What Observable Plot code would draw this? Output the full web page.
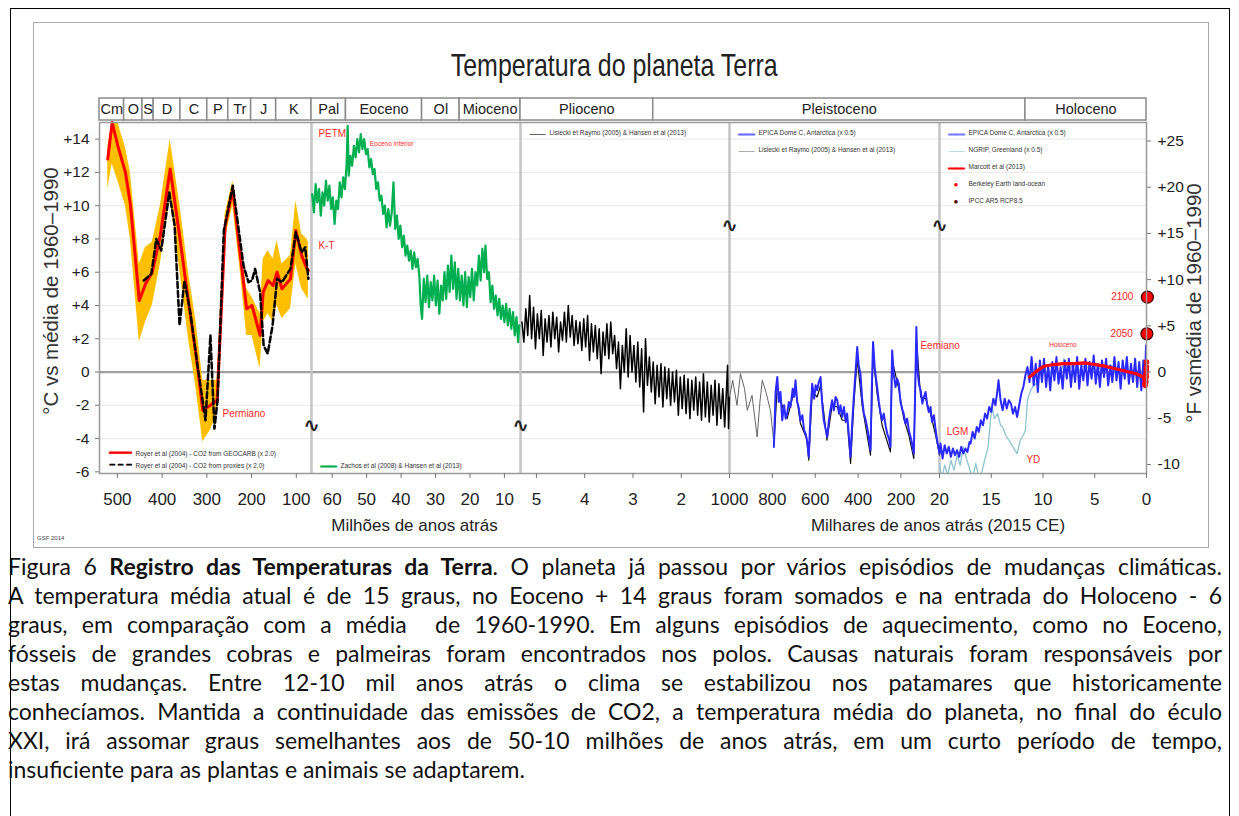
<!DOCTYPE html>
<html><head><meta charset="utf-8">
<script src="https://cdn.jsdelivr.net/npm/d3@7"></script>
<script src="https://cdn.jsdelivr.net/npm/@observablehq/plot@0.6"></script>
<style>
body{margin:0;background:#fff;}
#page{position:relative;width:1239px;height:816px;overflow:hidden;background:#fff;}
#outer{position:absolute;left:10px;top:8px;width:1218px;height:900px;border:1px solid #000;}
#chart{position:absolute;left:33px;top:22px;width:1174px;height:524px;border:1px solid #aaa;background:#fff;}
#title{position:absolute;left:0;width:1160px;top:24px;text-align:center;font-family:"Liberation Sans",Arial,sans-serif;font-size:32px;color:#222;transform:scaleX(0.78);transform-origin:581px 0;}
#hdr{position:absolute;left:0;top:74px;}
#main{position:absolute;left:0;top:98px;}
.rot{position:absolute;white-space:nowrap;transform:translate(-50%,-50%) rotate(-90deg);font-family:"Liberation Sans",Arial,sans-serif;font-size:20.5px;color:#333;}
#gsf{position:absolute;left:3px;top:512px;font-size:6px;color:#444;font-family:"Liberation Sans",sans-serif;}
svg{overflow:visible}
#caption{position:absolute;left:8px;top:552px;width:1214px;font-family:Lato,"Open Sans",sans-serif;font-size:23px;line-height:29px;color:#111;}
.jl{text-align:justify;text-align-last:justify;}
</style></head><body>
<div id="page">
 <div id="outer"></div>
 <div id="chart">
   <div id="title">Temperatura do planeta Terra</div>
   <div id="hdr"></div>
   <div id="main"></div>
   <div class="rot" style="left:17px;top:268px;">°C vs média de 1960–1990</div>
   <div class="rot" style="left:1160px;top:280px;">°F vsmédia de 1960–1990</div>
   <div id="gsf">GSF 2014</div>
 </div>
 <div id="caption">
  <div class="jl">Figura 6 <b>Registro das Temperaturas da Terra</b>. O planeta já passou por vários episódios de mudanças climáticas.</div>
  <div class="jl">A temperatura média atual é de 15 graus, no Eoceno + 14 graus foram somados e na entrada do Holoceno - 6</div>
  <div class="jl">graus, em comparação com a média&nbsp; de 1960-1990. Em alguns episódios de aquecimento, como no Eoceno,</div>
  <div class="jl">fósseis de grandes cobras e palmeiras foram encontrados nos polos. Causas naturais foram responsáveis por</div>
  <div class="jl">estas mudanças. Entre 12-10 mil anos atrás o clima se estabilizou nos patamares que historicamente</div>
  <div class="jl">conhecíamos. Mantida a continuidade das emissões de CO2, a temperatura média do planeta, no final do éculo</div>
  <div class="jl">XXI, irá assomar graus semelhantes aos de 50-10 milhões de anos atrás, em um curto período de tempo,</div>
  <div>insuficiente para as plantas e animais se adaptarem.</div>
 </div>
</div>
<script>
// ---------- DATA ----------
// scale break points (years before present)
const breaks = [540e6, 66e6, 5.33e6, 1e6, 20e3, 0];
// bottom axis ticks (years before present) and their labels
const tickYears = [500e6,400e6,300e6,200e6,100e6, 60e6,50e6,40e6,30e6,20e6,10e6, 5e6,4e6,3e6,2e6, 1e6, 800e3,600e3,400e3,200e3, 20e3, 15e3,10e3,5e3,0];
const tickLabels = ["500","400","300","200","100","60","50","40","30","20","10","5","4","3","2","1000","800","600","400","200","20","15","10","5","0"];
const cTicks = [-6,-4,-2,0,2,4,6,8,10,12,14];
const fTicks = [-10,-5,0,5,10,15,20,25];

// geological periods / epochs (Ma)
const eraNames = ["Cm","O","S","D","C","P","Tr","J","K","Pal","Eoceno","Ol","Mioceno","Plioceno","Pleistoceno","Holoceno"];
const eraStartMa = [540,485,444,419,359,299,252,201,145,66,56,33.9,23,5.33,2.58,0.0117];
const eraEndMa   = [485,444,419,359,299,252,201,145,66,56,33.9,23,5.33,2.58,0.0117,0];

// Royer et al (2004), Ma
const royerAge = [521.5,511.7,499,482,471,451,437,422,404,382,360,341,324,309,292,277,259,242,225,211,199,181,174,163,152,143,132,113,101,88,76,73];
const royerGeocarb = [12.8,15.0,13.6,12.0,10.1,4.3,5.3,6.0,8.2,12.2,8.0,4.2,1.0,-2.3,-2.0,-1.7,8.8,11.0,7.0,3.8,4.0,2.2,4.8,5.5,5.2,6.0,5.0,5.6,8.5,7.0,6.2,6.1];
const royerLo = [11.0,12.5,11.5,10.0,8.0,1.8,3.0,4.0,6.5,10.5,6.0,2.0,-1.0,-4.2,-3.5,-2.5,8.0,10.0,6.0,2.2,2.2,0.2,3.0,3.5,3.0,4.0,3.2,3.8,6.5,5.0,4.5,4.4];
const royerHi = [13.5,15.0,15.0,13.5,12.0,6.5,7.5,7.8,10.0,14.0,10.0,6.0,3.0,-0.5,-0.5,-0.5,9.5,11.5,8.0,5.0,4.5,3.5,6.8,7.3,6.8,7.9,6.5,7.0,10.3,8.3,8.0,7.8];
const proxyAge = [441,424,413,402,384,372,361,350,337,322,303,292,283,276,262,242,218,207,199,192,181,173,164,153,143,132,113,101,88,80,73];
const proxyTemp = [5.5,5.9,8.0,7.3,10.8,8.8,2.8,5.5,3.6,0.6,-2.9,2.2,-3.4,-1.7,8.5,11.2,6.4,5.4,5.5,6.2,4.8,1.6,1.1,2.8,5.6,5.4,6.2,8.4,7.2,7.5,5.6];

// Zachos et al (2008) & Hansen et al (2013), Ma
const greenAge = [65.8,65.3,64.8,64.3,63.8,63.3,62.8,62.3,61.8,61.3,60.8,60.3,59.8,59.3,58.8,58.3,57.8,57.3,56.8,56.3,55.8,55.5,55.2,54.7,54.2,53.7,53.2,52.7,52.2,51.7,51.2,50.7,50.2,49.7,49.2,48.7,48.2,47.7,47.2,46.7,46.2,45.7,45.2,44.7,44.2,43.7,43.2,42.7,42.2,41.7,41.2,40.7,40.2,39.7,39.2,38.7,38.2,37.7,37.2,36.7,36.2,35.7,35.2,34.7,34.3,33.9,33.4,32.9,32.4,31.9,31.4,30.9,30.4,29.9,29.4,28.9,28.4,27.9,27.4,26.9,26.4,25.9,25.4,24.9,24.4,23.9,23.4,22.9,22.4,21.9,21.4,20.9,20.4,19.9,19.4,18.9,18.4,17.9,17.4,16.9,16.4,15.9,15.5,15.0,14.5,14.0,13.5,13.0,12.5,12.0,11.5,11.0,10.5,10.0,9.5,9.0,8.5,8.0,7.5,7.0,6.5,6.0,5.7];
const greenTemp = [10.7,9.6,11.3,10.2,11.0,9.4,10.8,10.0,11.5,10.3,11.2,9.8,10.5,8.9,10.3,9.8,11.4,10.5,11.7,11.0,12.5,14.8,11.8,13.0,12.4,13.6,12.9,14.0,13.2,14.3,13.4,14.0,13.1,13.4,12.3,12.8,11.9,12.2,11.0,11.4,10.3,10.6,9.5,10.0,8.7,9.8,8.8,9.6,11.4,8.6,9.4,8.0,8.8,7.5,8.2,7.0,7.6,6.7,7.3,6.2,7.2,6.3,6.8,5.8,4.0,3.2,5.6,4.2,5.8,3.9,5.4,4.3,5.8,4.0,5.5,3.5,5.2,4.3,6.0,4.4,6.4,4.8,7.0,5.0,6.6,4.4,6.2,4.3,5.8,4.0,6.0,3.9,5.7,4.5,6.2,4.3,6.0,5.2,7.0,5.5,7.4,6.0,7.6,5.6,6.0,4.2,5.2,3.8,4.6,3.4,4.4,3.2,4.0,3.0,4.1,2.8,3.8,2.6,3.6,2.2,3.3,1.8,2.8];

// Lisiecki & Raymo (2005) & Hansen et al (2013), Ma
const blackAge = [5.30,5.26,5.22,5.18,5.14,5.10,5.06,5.02,4.98,4.94,4.90,4.86,4.82,4.78,4.74,4.70,4.66,4.62,4.58,4.54,4.50,4.46,4.42,4.38,4.34,4.30,4.26,4.22,4.18,4.14,4.10,4.06,4.02,3.98,3.94,3.90,3.86,3.82,3.78,3.74,3.70,3.66,3.62,3.58,3.54,3.50,3.46,3.42,3.38,3.34,3.30,3.26,3.22,3.18,3.14,3.10,3.06,3.02,2.98,2.94,2.90,2.86,2.82,2.78,2.74,2.70,2.66,2.62,2.58,2.54,2.50,2.46,2.42,2.38,2.34,2.30,2.26,2.22,2.18,2.14,2.10,2.06,2.02,1.98,1.94,1.90,1.86,1.82,1.78,1.74,1.70,1.66,1.62,1.58,1.54,1.50,1.46,1.42,1.38,1.34,1.30,1.26,1.22,1.18,1.14,1.10,1.06,1.04,1.02,1.00];
const blackTemp = [3.0,1.8,3.8,2.2,4.6,2.0,3.9,1.4,3.5,2.0,3.7,1.0,3.2,1.8,3.4,1.5,3.6,2.0,3.3,1.2,3.0,1.9,3.6,1.8,4.0,2.1,3.4,1.6,3.1,1.7,3.0,1.3,3.2,1.5,3.4,0.7,2.9,1.2,2.8,0.8,2.6,-0.1,2.4,1.0,2.9,0.8,3.0,1.1,2.2,0.2,1.8,-1.0,1.6,0.0,2.6,-0.3,2.2,0.0,1.6,-0.6,1.8,-0.9,1.4,-2.4,2.0,-0.8,0.9,-1.2,0.6,-1.9,0.4,-1.5,0.5,-2.1,0.3,-1.6,0.2,-2.0,0.0,-1.8,0.1,-2.6,-0.3,-2.2,-0.2,-2.5,-0.4,-2.8,-0.5,-2.3,-0.3,-2.6,-0.6,-2.9,-0.1,-2.7,-0.6,-3.0,-0.8,-2.6,-0.5,-3.2,-0.7,-2.8,-1.0,-3.3,-0.9,0.4,-3.4,-1.5];

// Lisiecki & Raymo, 1000-790 ka (thin grey) and under EPICA (dark), ka
const lisAge = [1000,985,965,949,930,917,895,871,858,847,830,809,795];
const lisTemp = [-1.5,-0.5,-2.0,-0.1,-1.0,-2.3,-1.4,-3.9,-1.8,-0.5,-1.2,-2.3,-4.0];
const lisDarkAge = [790,777,760,731,705,692,669,640,630,614,591,575,545,521,497,474,451,435,420,404,381,342,330,311,288,249,241,210,187,163,140,128,108,85,62,38,20];
const lisDarkTemp = [-3.8,-0.8,-1.8,-2.8,-1.5,-1.0,-3.1,-4.0,-5.3,-1.2,-1.5,-0.8,-4.1,-2.0,-2.1,-2.9,-2.9,-5.5,-2.0,0.8,-2.0,-5.0,1.0,-1.3,-3.2,-4.8,0.7,-1.0,-2.8,-3.8,-5.2,2.0,-1.5,-1.6,-2.5,-3.8,-5.0];

// EPICA Dome C (x 0.5), ka
const epicaAge = [793,785,777,770,762,754,745,738,731,723,715,705,698,692,684,676,669,660,652,645,637,630,622,614,605,598,591,583,575,568,560,552,544,536,528,521,513,505,497,489,482,474,466,458,451,443,435,428,420,412,404,397,389,381,373,366,358,350,342,336,330,322,311,303,296,288,280,272,264,256,249,245,241,233,225,218,210,202,195,187,179,171,163,155,148,140,134,128,122,115,108,100,93,85,77,70,62,55,46,38,30,25,
 20,19.9,19.7,19.5,19.3,19.1,18.9,18.7,18.5,18.3,18.1,17.9,17.7,17.5,17.3,17.1,17.0,16.8,16.6,16.4,16.2,16.0,15.8,15.6,15.4,15.2,15.0,14.8,14.6,14.4,14.3,14.1,13.9,13.7,13.5,13.3,13.1,12.9,12.7,12.5,12.3,12.1,11.9,11.7,11.5,11.3,11.1,10.9,10.7,10.5,10.3,10.1,9.9,9.7,9.5,9.3,9.1,8.9,8.7,8.5,8.3,8.1,7.9,7.7,7.5,7.3,7.1,6.9,6.7,6.5,6.3,6.1,5.9,5.7,5.5,5.3,5.1,4.9,4.7,4.5,4.3,4.1,3.9,3.7,3.5,3.3,3.1,2.9,2.7,2.5,2.3,2.1,1.9,1.7,1.5,1.3,1.1,0.9,0.7,0.5,0.3,0.15,0.05];
const epicaTemp = [-4.5,-1.2,-0.3,-1.8,-1.2,-2.9,-2.0,-2.8,-2.5,-1.8,-2.1,-1.0,-1.5,-0.5,-1.8,-2.2,-2.9,-2.6,-3.5,-3.7,-4.2,-5.1,-2.5,-0.7,-1.6,-0.8,-1.1,-0.6,-0.3,-1.8,-2.9,-3.4,-3.9,-2.9,-2.2,-1.7,-2.3,-1.5,-1.7,-2.5,-2.0,-2.7,-2.1,-3.0,-2.5,-3.8,-5.1,-3.2,-1.5,0.0,1.5,0.4,-0.1,-1.6,-2.5,-2.8,-3.3,-3.9,-4.7,-1.0,1.8,0.2,-0.9,-1.8,-2.4,-2.9,-2.5,-3.2,-3.7,-4.0,-4.5,-1.5,1.3,-0.2,-0.9,-0.4,-0.7,-1.8,-2.2,-2.5,-3.1,-2.8,-3.5,-3.9,-4.3,-4.9,-1.5,2.7,0.0,-0.8,-1.1,-1.9,-1.5,-1.2,-2.0,-2.4,-2.1,-3.0,-2.6,-3.5,-4.2,-4.5,
 -4.9,-4.3,-5.2,-4.4,-4.9,-4.5,-5.1,-4.6,-5.0,-4.7,-5.1,-4.5,-4.9,-4.6,-4.8,-4.2,-4.3,-3.6,-4.0,-3.3,-3.6,-2.9,-3.2,-2.5,-2.8,-2.1,-2.4,-1.6,-2.0,-1.1,-0.5,-1.7,-2.3,-1.6,-2.2,-1.7,-1.9,-2.5,-2.1,-2.7,-2.0,-1.3,-0.9,-0.2,0.3,-0.6,0.9,-0.8,0.5,-1.2,0.7,-0.6,0.8,-0.9,0.4,-1.1,0.6,-0.5,0.9,-0.7,0.3,-1.0,0.7,-0.4,0.8,-0.9,0.5,-0.6,0.9,-1.0,0.4,-0.5,0.8,-0.8,0.6,-0.4,1.0,-0.7,0.5,-0.9,0.7,-0.3,0.8,-0.8,0.4,-0.6,0.9,-0.5,0.6,-1.0,0.7,-0.4,0.9,-0.7,0.5,-0.6,0.8,-0.9,0.6,-1.1,0.7,-0.5,1.6];

// NGRIP, Greenland (x 0.5), ka
const ngripAge = [20.0,19.8,19.5,19.2,18.9,18.6,18.3,18.0,17.7,17.4,17.1,16.8,16.5,16.2,15.9,15.6,15.3,15.1,14.9,14.7,14.4,14.1,13.9,13.6,13.3,13.1,12.8,12.5,12.2,11.9,11.7,11.5,11.2,10.9,10.6,10.3,9.9,9.6,9.3,9.0,8.6,8.3,8.0,7.6,7.3,7.0,6.6,6.2,5.8,5.4,5.0,4.6,4.2,3.8,3.4,3.0,2.6,2.2,1.8,1.4,1.0,0.6,0.2,0.05];
const ngripTemp = [-5.5,-6.4,-5.6,-6.2,-5.3,-5.9,-5.0,-5.6,-4.5,-5.2,-5.8,-6.4,-5.5,-6.3,-6.0,-5.2,-4.5,-3.0,-2.1,-2.8,-2.5,-3.2,-3.3,-3.8,-4.1,-4.3,-4.6,-4.9,-4.1,-3.8,-3.5,-1.7,-1.1,-0.8,-0.7,-0.2,0.3,-0.3,-0.1,0.4,0.1,-0.4,0.8,0.2,0.3,0.5,0.0,0.4,0.2,0.5,0.0,0.3,-0.1,0.2,0.4,-0.1,0.2,-0.2,0.1,-0.3,0.0,-0.4,-0.1,0.2];

// Marcott et al (2013), ka
const marcottAge = [11.3,10.5,9.9,9.0,8.0,7.0,6.0,5.0,4.0,3.0,2.0,1.0,0.3];
const marcottTemp = [-0.3,0.1,0.35,0.45,0.5,0.5,0.55,0.45,0.35,0.2,0.05,-0.1,-0.3];

// Berkeley Earth land-ocean, ka
const berkAge = [0.165,0.14,0.12,0.1,0.08,0.06,0.045,0.03,0.02,0.01,0.003];
const berkTemp = [-0.7,-0.4,-0.8,-0.5,-0.3,-0.6,-0.1,-0.3,0.1,0.3,0.6];

// IPCC AR5 RCP8.5 projections (ka; negative = future)
const ipccAge = [-0.035,-0.085];
const ipccTemp = [2.3,4.5];
const ipccLabel = ["2050","2100"];

// annotations
const annText = ["PETM","Eoceno inferior","K-T","Permiano","Eemiano","LGM","YD","Holoceno"];
const annAge = [64e6,49.1e6,64e6,265e6,109e3,19.3e3,11.6e3,9.4e3];
const annTemp = [14.3,13.7,7.6,-2.5,1.6,-3.6,-5.3,1.65];

// legend entries (panel index, text, colour, swatch kind)
const legPanel = [0,0,1,2,3,3,4,4,4,4,4];
const legText = ["Royer et al (2004) - CO2 from GEOCARB (x 2.0)","Royer et al (2004) - CO2 from proxies (x 2.0)","Zachos et al (2008) & Hansen et al (2013)","Lisiecki et Raymo (2005) & Hansen et al (2013)","EPICA Dome C, Antarctica (x 0.5)","Lisiecki et Raymo (2005) & Hansen et al (2013)","EPICA Dome C, Antarctica (x 0.5)","NGRIP, Greenland (x 0.5)","Marcott et al (2013)","Berkeley Earth land-ocean","IPCC AR5 RCP8.5"];
const legColor = ["#ff0000","#000000","#00b050","#333333","#6a6aff","#9a9a9a","#7a7aff","#a9d3dc","#ff0000","#ff0000","#5a0000"];
const legKind = ["thick","dash","thick","line","thick","thin","thick","thin","thick","dot","dot"];

// ---------- BUILD ----------
const FONT = '"Liberation Sans",Arial,sans-serif';
const W = 1174, mL = 65, mR = 62;
const rangePx = [65, 277, 486, 695, 905, 1112];
const xOpt = {type: "linear", domain: breaks, range: rangePx};
const xs = Plot.scale({x: xOpt});
const midOf = (a, b) => xs.invert((xs.apply(a) + xs.apply(b)) / 2);

const Ma = 1e6, ka = 1e3;
const royer = royerAge.map((a, i) => ({age: a*Ma, geo: royerGeocarb[i], lo: royerLo[i], hi: royerHi[i]}));
const proxies = proxyAge.map((a, i) => ({age: a*Ma, t: proxyTemp[i]}));
const green = greenAge.map((a, i) => ({age: a*Ma, t: greenTemp[i]}));
const black = blackAge.map((a, i) => ({age: a*Ma, t: blackTemp[i]}));
const lis = lisAge.map((a, i) => ({age: a*ka, t: lisTemp[i]}));
const lisDark = lisDarkAge.map((a, i) => ({age: a*ka, t: lisDarkTemp[i]}));
const epica = epicaAge.map((a, i) => ({age: a*ka, t: epicaTemp[i]}));
const ngrip = ngripAge.map((a, i) => ({age: a*ka, t: ngripTemp[i]}));
const marcott = marcottAge.map((a, i) => ({age: a*ka, t: marcottTemp[i]}));
const berk = berkAge.map((a, i) => ({age: a*ka, t: berkTemp[i]}));
const ipcc = ipccAge.map((a, i) => ({age: a*ka, t: ipccTemp[i], label: ipccLabel[i]}));
const ann = annText.map((s, i) => ({text: s, age: annAge[i], t: annTemp[i]}));
const eras = eraNames.map((n, i) => ({name: n, x1: eraStartMa[i]*Ma, x2: eraEndMa[i]*Ma, mid: midOf(eraStartMa[i]*Ma, eraEndMa[i]*Ma)}));
const breakMarks = [
  {age: breaks[1], t: -3.2}, {age: breaks[2], t: -3.2}, {age: breaks[3], t: 8.8}, {age: breaks[4], t: 8.8}
];
const tickLab = new Map(tickYears.map((t, i) => [t, tickLabels[i]]));
const fmtC = d => d > 0 ? "+" + d : String(d);

// legend rows
const legRows = [];
const rowCount = {};
legText.forEach((s, i) => {
  const p = legPanel[i];
  const r = rowCount[p] = (rowCount[p] ?? -1) + 1;
  legRows.push({panel: p, row: r, text: s, color: legColor[i], kind: legKind[i], age: breaks[p]});
});
const bottomPanels = new Set([0, 1]);
const nInPanel = p => legRows.filter(d => d.panel === p).length;
const legDy = d => bottomPanels.has(d.panel) ? -6 - 12*(nInPanel(d.panel) - 1 - d.row) : 8 + 17*d.row;
const legendMarks = [];
for (const d of legRows) {
  const frameAnchor = bottomPanels.has(d.panel) ? "bottom" : "top";
  const dy = legDy(d);
  const swDx = d.panel === 0 ? 10 : 9;
  const swW = d.panel === 0 ? 22 : 16;
  let sw;
  if (d.kind === "dot") sw = Plot.text([d], {x: "age", text: () => "●", fill: d.color, frameAnchor, dy, dx: swDx + swW/2 - 3, fontSize: 8, textAnchor: "start"});
  else {
    const dash = d.kind === "dash";
    sw = Plot.text([d], {x: "age", text: () => dash ? "– – –" : "——", fill: d.color, stroke: d.kind === "thick" || dash ? d.color : "none", strokeWidth: d.kind === "thick" ? 1.2 : 0.8, frameAnchor, dy, dx: swDx, fontSize: dash ? 10 : swW/2, fontWeight: "bold", textAnchor: "start"});
  }
  legendMarks.push(sw);
  legendMarks.push(Plot.text([d], {x: "age", text: "text", fill: "#333", frameAnchor, dy, dx: swDx + swW + 4, fontSize: 6.5, textAnchor: "start"}));
}

// ---------- HEADER ----------
const hdr = Plot.plot({
  width: W, height: 24, marginLeft: mL, marginRight: mR, marginTop: 1, marginBottom: 1,
  x: {...xOpt, axis: null}, y: {axis: null},
  style: {fontFamily: FONT, background: "transparent", color: "#222", overflow: "visible"},
  marks: [
    Plot.rect(eras, {x1: "x1", x2: "x2", fill: "white", stroke: "#8a8a8a", strokeWidth: 1.5}),
    Plot.text(eras, {x: "mid", text: "name", fontSize: 14.5, fill: "#222"})
  ]
});
document.getElementById("hdr").appendChild(hdr);

// ---------- MAIN ----------
const H = 426;
const main = Plot.plot({
  width: W, height: H, marginLeft: mL, marginRight: mR, marginTop: 1, marginBottom: 74,
  x: {...xOpt, axis: null},
  y: {domain: [-6.1, 15], axis: null},
  style: {fontFamily: FONT, background: "transparent", color: "#222", overflow: "visible"},
  marks: [
    Plot.ruleY(cTicks.filter(d => d !== 0 && d !== -6), {stroke: "#ececec", strokeWidth: 1.2}),
    Plot.ruleY([0], {stroke: "#a0a0a0", strokeWidth: 2.2}),
    Plot.ruleX(breaks.slice(1, -1), {stroke: "#c4c4c4", strokeWidth: 2.5}),
    // Royer
    Plot.areaY(royer, {x: "age", y1: "lo", y2: "hi", fill: "#ffbf00"}),
    Plot.line(royer, {x: "age", y: "geo", stroke: "#ff0000", strokeWidth: 3}),
    Plot.line(proxies, {x: "age", y: "t", stroke: "#000", strokeWidth: 2.5, strokeDasharray: "6,3"}),
    // Cenozoic
    Plot.line(green, {x: "age", y: "t", stroke: "#00b050", strokeWidth: 2.2}),
    Plot.line(black, {x: "age", y: "t", stroke: "#000", strokeWidth: 1.5}),
    Plot.line(lis, {x: "age", y: "t", stroke: "#555", strokeWidth: 0.9}),
    Plot.line(lisDark, {x: "age", y: "t", stroke: "#111", strokeWidth: 1.2}),
    Plot.line(ngrip, {x: "age", y: "t", stroke: "#8fc3cf", strokeWidth: 1.3, clip: true}),
    Plot.line(epica, {x: "age", y: "t", stroke: "#2a2aff", strokeWidth: 2}),
    Plot.line(marcott, {x: "age", y: "t", stroke: "#ff0000", strokeWidth: 3.2}),
    Plot.dot(berk, {x: "age", y: "t", r: 2.8, fill: "#ff0000"}),
    Plot.dot(ipcc, {x: "age", y: "t", r: 6, fill: "#ff0000", stroke: "#3a0000", strokeWidth: 1.2}),
    Plot.text(ipcc, {x: "age", y: "t", text: "label", fill: "#ff2020", fontSize: 10, textAnchor: "end", dx: -14}),
    // annotations
    Plot.text(ann, {x: "age", y: "t", text: "text", fill: "#ff2a2a", textAnchor: "start",
      fontSize: d => (d.text === "Eoceno inferior" || d.text === "Holoceno") ? 6.5 : 10}),
    Plot.text(breakMarks, {x: "age", y: "t", text: () => "∿", fontSize: 20, fontWeight: "bold", fill: "#222", fontFamily: '"DejaVu Sans",sans-serif'}),
    ...legendMarks,
    Plot.frame({stroke: "#9a9a9a", strokeWidth: 1.5}),
    Plot.axisY(cTicks, {anchor: "left", tickFormat: fmtC, tickSize: 4, tickPadding: 6, fontSize: 15.5, label: null, stroke: "#777"}),
    Plot.axisY(fTicks.map(f => f / 1.8), {anchor: "right", tickFormat: d => fmtC(Math.round(d * 1.8)), tickSize: 4, tickPadding: 7, fontSize: 15.5, label: null, stroke: "#777"}),
    Plot.axisX(tickYears, {anchor: "bottom", tickFormat: d => tickLab.get(d), tickSize: 5, tickPadding: 14, fontSize: 17, label: null, stroke: "#777"}),
    Plot.text([{a: breaks[0], b: breaks[3], s: "Milhões de anos atrás"}, {a: breaks[3], b: breaks[5], s: "Milhares de anos atrás (2015 CE)"}],
      {x: d => midOf(d.a, d.b), text: "s", frameAnchor: "bottom", dy: 57, fontSize: 17, fill: "#222"})
  ]
});
document.getElementById("main").appendChild(main);
</script>
</body></html>
